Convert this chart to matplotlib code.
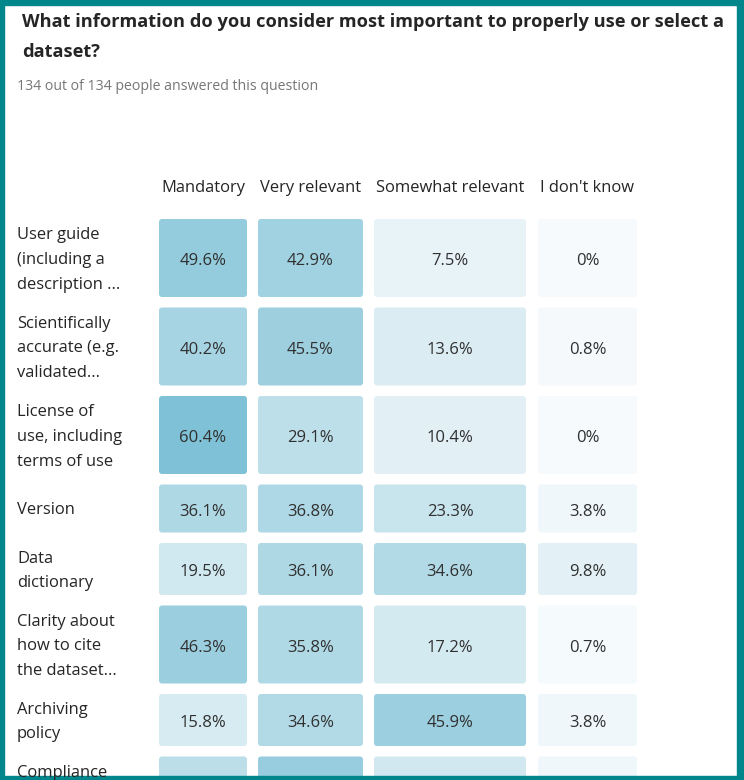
import numpy as np
import matplotlib.pyplot as plt
from matplotlib.patches import FancyBboxPatch
from matplotlib.colors import LinearSegmentedColormap

plt.rcParams['font.family'] = ['Open Sans', 'DejaVu Sans']

title = "What information do you consider most important to properly use or select a\ndataset?"
subtitle = "134 out of 134 people answered this question"

columns = ["Mandatory", "Very relevant", "Somewhat relevant", "I don't know"]
rows = ["User guide\n(including a\ndescription ...",
        "Scientifically\naccurate (e.g.\nvalidated...",
        "License of\nuse, including\nterms of use",
        "Version",
        "Data\ndictionary",
        "Clarity about\nhow to cite\nthe dataset...",
        "Archiving\npolicy",
        "Compliance\nwith\nstandards..."]

mandatory = [49.6, 40.2, 60.4, 36.1, 19.5, 46.3, 15.8, 30.0]
very_relevant = [42.9, 45.5, 29.1, 36.8, 36.1, 35.8, 34.6, 48.0]
somewhat_relevant = [7.5, 13.6, 10.4, 23.3, 34.6, 17.2, 45.9, 19.0]
dont_know = [0, 0.8, 0, 3.8, 9.8, 0.7, 3.8, 3.0]

values = np.array([mandatory, very_relevant, somewhat_relevant, dont_know]).T

W, H = 744, 780
fig = plt.figure(figsize=(W / 100, H / 100), dpi=100)
ax = fig.add_axes([0, 0, 1, 1])
ax.set_xlim(0, W)
ax.set_ylim(H, 0)
ax.axis('off')

cmap = LinearSegmentedColormap.from_list("blues", ["#f6fafc", "#7cc0d5"])

# layout in pixels
col_x = [159, 258, 374, 538]
col_w = [88, 105, 152, 99]
row_h = [78, 78, 78, 48, 52, 78, 52, 78]
gap = 10.5
y0 = 219

ax.text(22, 37, title, fontsize=13.15, fontweight='bold', color='#252525',
        va='center', ha='left', linespacing=1.85)
ax.text(17, 86, subtitle, fontsize=10.2, color='#767676', va='center', ha='left')

for x, w, name in zip(col_x, col_w, columns):
    ax.text(x + w / 2, 188, name, fontsize=11.9, color='#252525', ha='center', va='center')

y = y0
for i, (label, h) in enumerate(zip(rows, row_h)):
    ax.text(17, y + h / 2 + 2, label, fontsize=11.9, color='#252525', ha='left', va='center',
            linespacing=1.72)
    for j in range(4):
        v = values[i, j]
        patch = FancyBboxPatch((col_x[j], y), col_w[j], h,
                               boxstyle="round,pad=0,rounding_size=3",
                               facecolor=cmap(v / 62), edgecolor='none')
        ax.add_patch(patch)
        txt = f"{v:.1f}%" if v != 0 else "0%"
        ax.text(col_x[j] + col_w[j] / 2, y + h / 2 + 3, txt, fontsize=12,
                color='#303030', ha='center', va='center')
    y += h + gap

# teal frame
frame = '#00868b'
ax.add_patch(plt.Rectangle((0, 0), 4, H, color=frame))
ax.add_patch(plt.Rectangle((737, 0), 7, H, color=frame))
ax.add_patch(plt.Rectangle((0, 0), W, 5, color=frame))
ax.add_patch(plt.Rectangle((0, 776), W, 4, color=frame))

fig.savefig("out.png", dpi=100)
